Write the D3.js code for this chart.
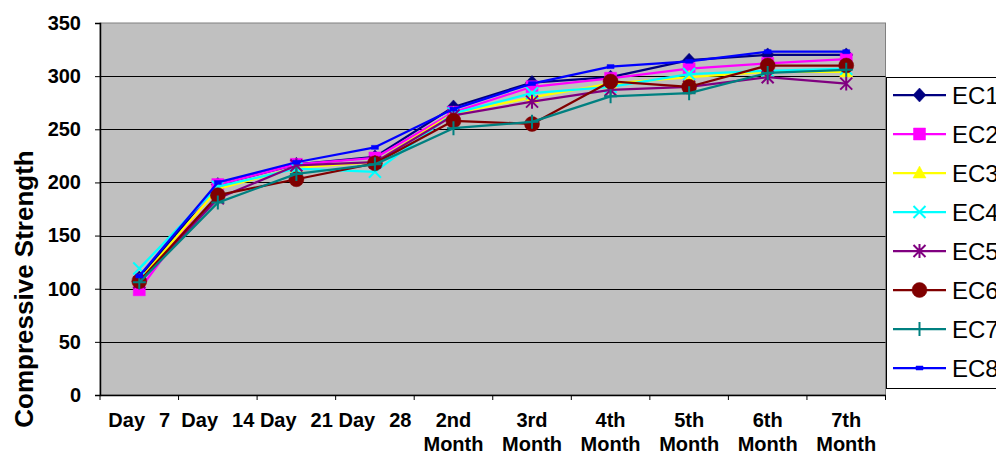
<!DOCTYPE html>
<html>
<head>
<meta charset="utf-8">
<script src="https://cdn.jsdelivr.net/npm/d3@7"></script>
<style>
  body { margin: 0; background: #fff; }
  text { font-family: "Liberation Sans", Arial, sans-serif; }
</style>
</head>
<body>
<div id="d3-container"></div>
<script>
/**
 * CONSTANTS AND GLOBALS
 * */
const width = 996,
  height = 455,
  margin = { top: 23, bottom: 60, left: 100, right: 110 };

// chart data
const categories = ["Day 7", "Day 14", "Day 21", "Day 28", "2nd Month", "3rd Month",
  "4th Month", "5th Month", "6th Month", "7th Month"];
const seriesNames = ["EC1", "EC2", "EC3", "EC4", "EC5", "EC6", "EC7", "EC8"];
const ec1 = [110, 198, 217, 224, 271, 294, 299, 315, 320, 320];
const ec2 = [99, 198, 217, 223, 266, 290, 298, 307, 312, 316];
const ec3 = [108, 194, 214, 219, 265, 280, 293, 299, 304, 304];
const ec4 = [119, 196, 213, 210, 265, 284, 290, 302, 305, 307];
const ec5 = [106, 185, 216, 219, 263, 276, 287, 290, 299, 293];
const ec6 = [107, 188, 203, 218, 258, 255, 295, 290, 310, 310];
const ec7 = [106, 181, 208, 217, 251, 257, 281, 284, 303, 306];
const ec8 = [112, 200, 219, 233, 269, 293, 309, 314, 323, 323];
const yTicks = [0, 50, 100, 150, 200, 250, 300, 350];
const yTitle = "Compressive Strength";

const seriesValues = [ec1, ec2, ec3, ec4, ec5, ec6, ec7, ec8];
const colors = ["#000080", "#FF00FF", "#FFFF00", "#00FFFF", "#800080", "#800000", "#008080", "#0000FF"];
const markers = ["diamond", "square", "triangle", "x", "asterisk", "circle", "plus", "dash"];

const series = seriesNames.map((name, i) => ({
  name: name,
  color: colors[i],
  marker: markers[i],
  values: seriesValues[i].map((v, j) => ({ cat: categories[j], value: v }))
}));

// marker path strings, centered on 0,0
function markerPath(type) {
  switch (type) {
    case "diamond": return "M0,-7L6.5,0L0,7L-6.5,0Z";
    case "square": return "M-6,-6H6V6H-6Z";
    case "triangle": return "M0,-7L6.5,5L-6.5,5Z";
    case "x": return "M-6,-6L6,6M-6,6L6,-6";
    case "asterisk": return "M-6,-6L6,6M-6,6L6,-6M0,-7V7";
    case "circle": return "M-7.5,0A7.5,7.5 0 1,0 7.5,0A7.5,7.5 0 1,0 -7.5,0Z";
    case "plus": return "M-6.5,0H6.5M0,-7V7";
    case "dash": return "M-3.5,-2H3.5V2H-3.5Z";
  }
}
const stroked = t => t === "x" || t === "asterisk" || t === "plus";

const svg = d3.select("#d3-container")
  .append("svg")
  .attr("width", width)
  .attr("height", height);

const x = d3.scaleBand()
  .domain(categories)
  .range([margin.left, width - margin.right - 0.5]);

const y = d3.scaleLinear()
  .domain([0, 350])
  .range([height - margin.bottom, margin.top]);

// plot area
svg.append("rect")
  .attr("x", margin.left)
  .attr("y", margin.top)
  .attr("width", x.range()[1] - margin.left)
  .attr("height", y(0) - margin.top)
  .attr("fill", "#C0C0C0")
  .attr("stroke", "#808080")
  .attr("stroke-width", 1);

// gridlines
svg.selectAll("line.grid")
  .data(yTicks.filter(d => d > 0 && d < 350))
  .join("line")
  .attr("class", "grid")
  .attr("x1", margin.left)
  .attr("x2", x.range()[1])
  .attr("y1", d => Math.round(y(d)) + 0.5)
  .attr("y2", d => Math.round(y(d)) + 0.5)
  .attr("stroke", "#000")
  .attr("stroke-width", 1);

// y axis
const yAxis = svg.append("g")
  .attr("transform", `translate(${margin.left},0)`)
  .call(d3.axisLeft(y).tickValues(yTicks).tickSize(5).tickPadding(14));
yAxis.select(".domain").attr("stroke", "#000").attr("stroke-width", 1.5);
yAxis.selectAll(".tick line").attr("stroke", "#000");
yAxis.selectAll(".tick text")
  .attr("font-family", "Liberation Sans, Arial, sans-serif")
  .attr("font-size", 20)
  .attr("font-weight", "bold")
  .attr("fill", "#000");

// x axis
const xAxis = svg.append("g")
  .attr("transform", `translate(0,${y(0)})`)
  .call(d3.axisBottom(x).tickSize(0).tickFormat(""));
xAxis.select(".domain").attr("stroke", "#000").attr("stroke-width", 1.5);

const bounds = categories.map(c => x(c)).concat([x.range()[1]]);
svg.selectAll("line.xtick")
  .data(bounds)
  .join("line")
  .attr("class", "xtick")
  .attr("x1", d => d)
  .attr("x2", d => d)
  .attr("y1", y(0))
  .attr("y2", y(0) + 5)
  .attr("stroke", "#000");

const xLabels = svg.selectAll("text.xlabel")
  .data(categories)
  .join("text")
  .attr("class", "xlabel")
  .attr("x", d => x(d) + x.bandwidth() / 2)
  .attr("y", y(0) + 32)
  .attr("text-anchor", "middle")
  .attr("font-size", 20)
  .attr("font-weight", "bold")
  .attr("fill", "#000");

xLabels.each(function(d) {
  const words = d.split(" ");
  const t = d3.select(this);
  if (words[0] === "Day") {
    t.append("tspan").text(words[0]);
    t.append("tspan").attr("dx", 14).text(words[1]);
  } else {
    t.append("tspan").text(words[0]);
    t.append("tspan")
      .attr("x", x(d) + x.bandwidth() / 2)
      .attr("dy", 24)
      .text(words[1]);
  }
});

// y title
svg.append("text")
  .attr("transform", "translate(33,289) rotate(-90)")
  .attr("text-anchor", "middle")
  .attr("font-size", 26)
  .attr("font-weight", "bold")
  .attr("fill", "#000")
  .text(yTitle);

// lines and markers
const line = d3.line()
  .x(d => x(d.cat) + x.bandwidth() / 2)
  .y(d => y(d.value));

const groups = svg.selectAll("g.series")
  .data(series)
  .join("g")
  .attr("class", "series");

groups.append("path")
  .attr("d", d => line(d.values))
  .attr("fill", "none")
  .attr("stroke", d => d.color)
  .attr("stroke-width", 2.25)
  .attr("stroke-linejoin", "round");

groups.each(function(s) {
  d3.select(this).selectAll("path.marker")
    .data(s.values)
    .join("path")
    .attr("class", "marker")
    .attr("d", markerPath(s.marker))
    .attr("transform", d => `translate(${x(d.cat) + x.bandwidth() / 2},${y(d.value)})`)
    .attr("fill", stroked(s.marker) ? "none" : s.color)
    .attr("stroke", s.color)
    .attr("stroke-width", stroked(s.marker) ? 2 : 0.5);
});

// legend
const legendX = 886, legendTop = 77, legendBottom = 388;
svg.append("rect")
  .attr("x", legendX + 0.5)
  .attr("y", legendTop + 0.5)
  .attr("width", width)
  .attr("height", legendBottom - legendTop)
  .attr("fill", "#fff")
  .attr("stroke", "#000")
  .attr("stroke-width", 1);

const ly = d3.scalePoint()
  .domain(seriesNames)
  .range([95, 368]);

const legend = svg.selectAll("g.legend")
  .data(series)
  .join("g")
  .attr("class", "legend")
  .attr("transform", d => `translate(0,${ly(d.name)})`);

legend.append("line")
  .attr("x1", 893)
  .attr("x2", 946)
  .attr("stroke", d => d.color)
  .attr("stroke-width", 2.25);

legend.append("path")
  .attr("d", d => markerPath(d.marker))
  .attr("transform", "translate(919.5,0)")
  .attr("fill", d => stroked(d.marker) ? "none" : d.color)
  .attr("stroke", d => d.color)
  .attr("stroke-width", d => stroked(d.marker) ? 2 : 0.5);

legend.append("text")
  .attr("x", 952)
  .attr("y", 8.5)
  .attr("font-size", 24)
  .attr("fill", "#000")
  .text(d => d.name);
</script>
</body>
</html>
